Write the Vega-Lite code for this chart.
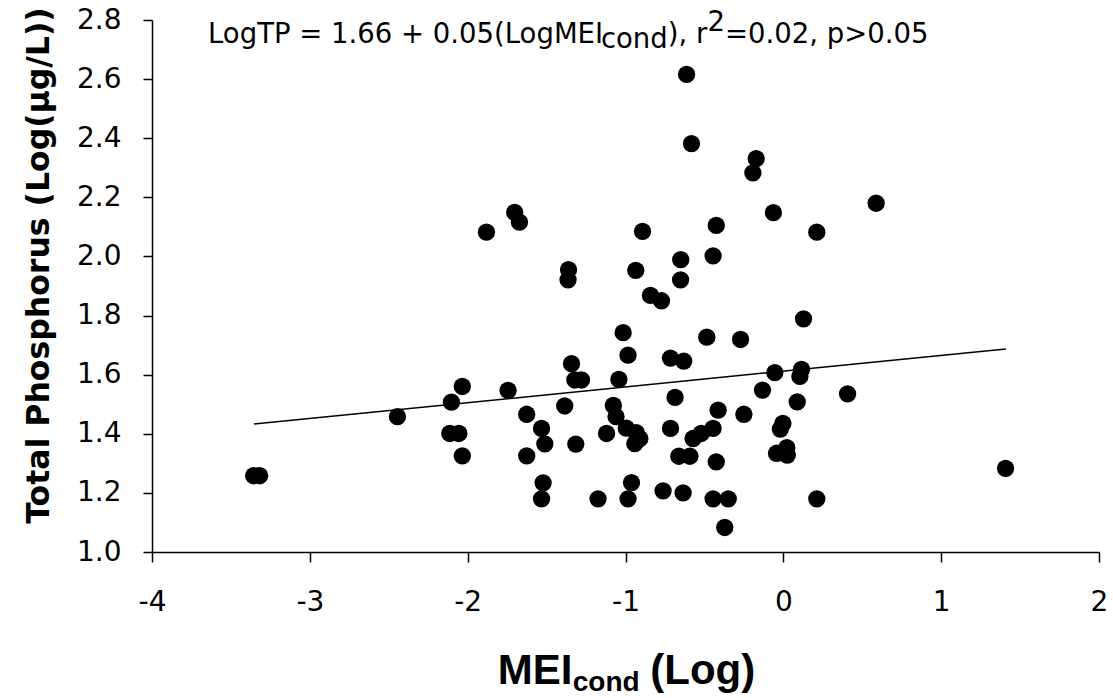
{
  "$schema": "https://vega.github.io/schema/vega-lite/v6.json",
  "width": 947,
  "height": 532,
  "autosize": "none",
  "padding": {"left": 152, "top": 20, "right": 14, "bottom": 146},
  "background": "white",
  "config": {
    "view": {"stroke": null},
    "axis": {"grid": false, "domainColor": "black", "tickColor": "black", "labelColor": "black", "titleColor": "black", "domainWidth": 1.5, "tickWidth": 1.5, "labelFlush": false, "labelOverlap": false}
  },
  "datasets": {
    "pts": [
      {"mei": -3.356, "tp": 1.258}, {"mei": -3.318, "tp": 1.258}, {"mei": -2.445, "tp": 1.458},
      {"mei": -2.103, "tp": 1.507}, {"mei": -2.034, "tp": 1.560}, {"mei": -2.113, "tp": 1.401},
      {"mei": -2.056, "tp": 1.401}, {"mei": -2.034, "tp": 1.325}, {"mei": -1.881, "tp": 2.082},
      {"mei": -1.702, "tp": 2.149}, {"mei": -1.672, "tp": 2.116}, {"mei": -1.744, "tp": 1.547},
      {"mei": -1.626, "tp": 1.466}, {"mei": -1.532, "tp": 1.418}, {"mei": -1.511, "tp": 1.366},
      {"mei": -1.626, "tp": 1.325}, {"mei": -1.522, "tp": 1.234}, {"mei": -1.532, "tp": 1.180},
      {"mei": -1.385, "tp": 1.494}, {"mei": -1.361, "tp": 1.955}, {"mei": -1.364, "tp": 1.921},
      {"mei": -1.342, "tp": 1.637}, {"mei": -1.321, "tp": 1.582}, {"mei": -1.279, "tp": 1.582},
      {"mei": -1.315, "tp": 1.365}, {"mei": -1.174, "tp": 1.180}, {"mei": -1.120, "tp": 1.401},
      {"mei": -1.042, "tp": 1.584}, {"mei": -1.077, "tp": 1.496}, {"mei": -1.060, "tp": 1.458},
      {"mei": -1.015, "tp": 1.742}, {"mei": -0.984, "tp": 1.666}, {"mei": -0.995, "tp": 1.419},
      {"mei": -0.932, "tp": 1.404}, {"mei": -0.909, "tp": 1.384}, {"mei": -0.941, "tp": 1.367},
      {"mei": -0.962, "tp": 1.235}, {"mei": -0.984, "tp": 1.180}, {"mei": -0.892, "tp": 2.085},
      {"mei": -0.935, "tp": 1.953}, {"mei": -0.842, "tp": 1.868}, {"mei": -0.772, "tp": 1.850},
      {"mei": -0.715, "tp": 1.656}, {"mei": -0.631, "tp": 1.646}, {"mei": -0.650, "tp": 1.989},
      {"mei": -0.651, "tp": 1.921}, {"mei": -0.613, "tp": 2.616}, {"mei": -0.582, "tp": 2.382},
      {"mei": -0.425, "tp": 2.105}, {"mei": -0.445, "tp": 2.002}, {"mei": -0.485, "tp": 1.727},
      {"mei": -0.271, "tp": 1.719}, {"mei": -0.686, "tp": 1.523}, {"mei": -0.715, "tp": 1.418},
      {"mei": -0.445, "tp": 1.418}, {"mei": -0.520, "tp": 1.401}, {"mei": -0.572, "tp": 1.384},
      {"mei": -0.662, "tp": 1.324}, {"mei": -0.592, "tp": 1.324}, {"mei": -0.425, "tp": 1.305},
      {"mei": -0.762, "tp": 1.207}, {"mei": -0.635, "tp": 1.200}, {"mei": -0.445, "tp": 1.180},
      {"mei": -0.349, "tp": 1.180}, {"mei": -0.371, "tp": 1.083}, {"mei": -0.413, "tp": 1.480},
      {"mei": -0.250, "tp": 1.466}, {"mei": -0.132, "tp": 1.548}, {"mei": -0.063, "tp": 2.148},
      {"mei": -0.172, "tp": 2.331}, {"mei": -0.193, "tp": 2.283}, {"mei": -0.054, "tp": 1.607},
      {"mei": 0.115, "tp": 1.618}, {"mei": 0.105, "tp": 1.594}, {"mei": 0.088, "tp": 1.508},
      {"mei": -0.003, "tp": 1.435}, {"mei": -0.019, "tp": 1.416}, {"mei": -0.043, "tp": 1.334},
      {"mei": 0.022, "tp": 1.353}, {"mei": 0.025, "tp": 1.328}, {"mei": 0.128, "tp": 1.789},
      {"mei": 0.212, "tp": 2.082}, {"mei": 0.588, "tp": 2.180}, {"mei": 0.407, "tp": 1.535},
      {"mei": 0.212, "tp": 1.180}, {"mei": 1.408, "tp": 1.283}
    ],
    "fit": [
      {"mei": -3.354, "tp": 1.433},
      {"mei": 1.410, "tp": 1.687}
    ]
  },
  "layer": [
    {
      "data": {"name": "fit"},
      "mark": {"type": "line", "color": "black", "strokeWidth": 1.5},
      "encoding": {
        "x": {
          "field": "mei", "type": "quantitative",
          "scale": {"domain": [-4, 2], "nice": false, "zero": false},
          "axis": {"title": null, "values": [-4, -3, -2, -1, 0, 1, 2], "labelExpr": "'' + datum.value", "labelFont": "DejaVu Sans", "labelFontSize": 28, "tickSize": 10, "labelPadding": 26}
        },
        "y": {
          "field": "tp", "type": "quantitative",
          "scale": {"domain": [1, 2.8], "nice": false, "zero": false},
          "axis": {"title": "Total Phosphorus (Log(µg/L))", "values": [1.0, 1.2, 1.4, 1.6, 1.8, 2.0, 2.2, 2.4, 2.6, 2.8], "format": ".1f", "labelFont": "DejaVu Sans", "labelFontSize": 28, "tickSize": 9, "labelPadding": 22, "titleFont": "DejaVu Sans", "titleFontWeight": "bold", "titleFontSize": 31.5, "titleX": -113, "titleY": 245, "titleAngle": -90, "titleBaseline": "middle", "titleAlign": "center"}
        }
      }
    },
    {
      "data": {"name": "pts"},
      "mark": {"type": "circle", "color": "black", "opacity": 1, "size": 300},
      "encoding": {
        "x": {"field": "mei", "type": "quantitative"},
        "y": {"field": "tp", "type": "quantitative"}
      }
    },
    {
      "data": {"values": [{}]},
      "layer": [
        {"mark": {"type": "text", "text": "LogTP = 1.66 + 0.05(LogMEI", "font": "DejaVu Sans", "fontSize": 27.5, "align": "left", "baseline": "alphabetic", "color": "black"},
         "encoding": {"x": {"datum": -3.645}, "y": {"datum": 2.7234}}},
        {"mark": {"type": "text", "text": "cond", "font": "DejaVu Sans", "fontSize": 27.5, "align": "left", "baseline": "alphabetic", "color": "black"},
         "encoding": {"x": {"datum": -1.156}, "y": {"datum": 2.704}}},
        {"mark": {"type": "text", "text": "), r", "font": "DejaVu Sans", "fontSize": 27.5, "align": "left", "baseline": "alphabetic", "color": "black"},
         "encoding": {"x": {"datum": -0.732}, "y": {"datum": 2.7234}}},
        {"mark": {"type": "text", "text": "2", "font": "DejaVu Sans", "fontSize": 27.5, "align": "left", "baseline": "alphabetic", "color": "black"},
         "encoding": {"x": {"datum": -0.481}, "y": {"datum": 2.7627}}},
        {"mark": {"type": "text", "text": "=0.02, p>0.05", "font": "DejaVu Sans", "fontSize": 27.5, "align": "left", "baseline": "alphabetic", "color": "black"},
         "encoding": {"x": {"datum": -0.37}, "y": {"datum": 2.7234}}},
        {"mark": {"type": "text", "text": "MEI", "font": "Liberation Sans", "fontWeight": "bold", "fontSize": 42, "align": "left", "baseline": "alphabetic", "color": "black"},
         "encoding": {"x": {"datum": -1.809}, "y": {"datum": 0.5549}}},
        {"mark": {"type": "text", "text": "cond", "font": "Liberation Sans", "fontWeight": "bold", "fontSize": 28, "align": "left", "baseline": "alphabetic", "color": "black"},
         "encoding": {"x": {"datum": -1.334}, "y": {"datum": 0.5312}}},
        {"mark": {"type": "text", "text": "(Log)", "font": "Liberation Sans", "fontWeight": "bold", "fontSize": 42, "align": "left", "baseline": "alphabetic", "color": "black"},
         "encoding": {"x": {"datum": -0.843}, "y": {"datum": 0.5549}}}
      ]
    }
  ]
}
